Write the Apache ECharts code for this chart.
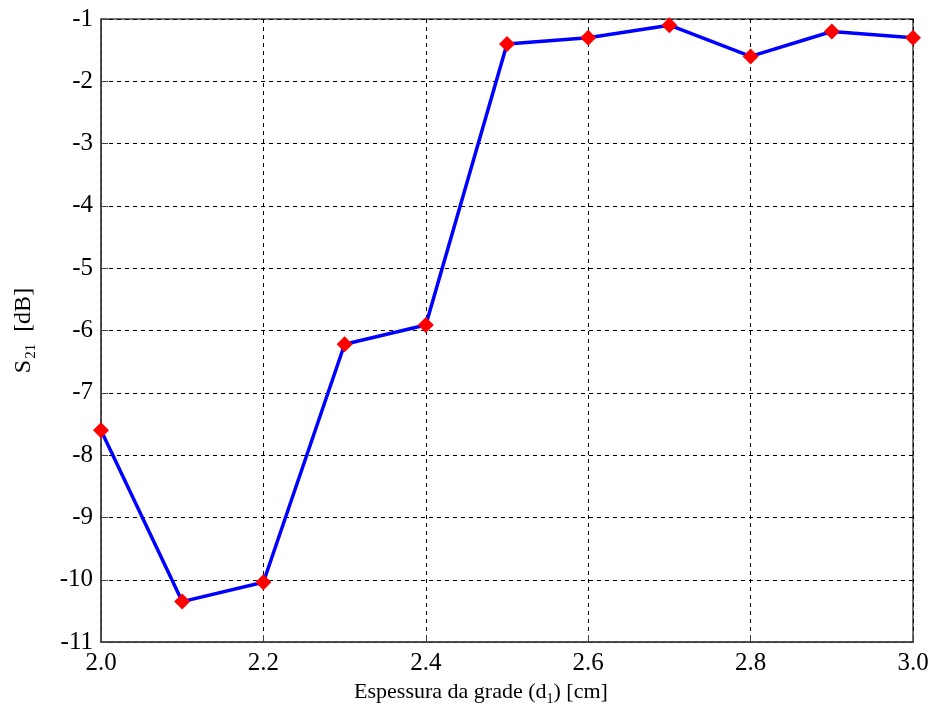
<!DOCTYPE html>
<html>
<head>
<meta charset="utf-8">
<script src="https://cdn.jsdelivr.net/npm/echarts@6/dist/echarts.min.js"></script>
<style>
  html, body { margin: 0; padding: 0; background: #fff; }
  #chart { width: 933px; height: 711px; }
</style>
</head>
<body>
<div id="chart"></div>
<script>
// espessura da grade (cm) vs S21 (dB)
var thickness = [2.0, 2.1, 2.2, 2.3, 2.4, 2.5, 2.6, 2.7, 2.8, 2.9, 3.0];
var s21 = [-7.6, -10.35, -10.04, -6.22, -5.91, -1.4, -1.3, -1.1, -1.6, -1.2, -1.3];

var points = [];
for (let i = 0; i < thickness.length; i++) {
  points.push([thickness[i], s21[i]]);
}

var FONT = "Liberation Serif";

var dom = document.getElementById("chart");
var myChart = echarts.init(dom, null, { renderer: "canvas" });

var gridLine = {
  show: true,
  lineStyle: { color: "#000", width: 1, type: [4, 4] },
};

var option = {
  animation: false,
  backgroundColor: "#fff",
  textStyle: { fontFamily: FONT },
  grid: {
    left: 101,
    right: 20,
    top: 19,
    bottom: 68,
    show: true,
    borderColor: "#444",
    borderWidth: 1.5,
  },
  xAxis: {
    type: "value",
    min: 2.0,
    max: 3.0,
    interval: 0.2,
    name: "{a|Espessura da grade (d}{sub|1}{a|) [cm]}",
    nameLocation: "middle",
    nameGap: 33,
    nameTextStyle: {
      padding: [0, 52, 0, 0],
      rich: {
        a: { fontFamily: FONT, fontSize: 22, color: "#000" },
        sub: { fontFamily: FONT, fontSize: 14, color: "#000", padding: [14, 0, 0, 0] },
      },
    },
    axisLine: { lineStyle: { color: "#444", width: 1.5 } },
    axisTick: { inside: true, length: 7, lineStyle: { color: "#444" } },
    axisLabel: {
      fontFamily: FONT,
      fontSize: 25,
      color: "#000",
      margin: 9,
      formatter: function (v) { return v.toFixed(1); },
    },
    splitLine: gridLine,
  },
  yAxis: {
    type: "value",
    min: -11,
    max: -1,
    interval: 1,
    name: "{a|S}{sub|21}{a|  [dB]}",
    nameLocation: "middle",
    nameGap: 62,
    nameTextStyle: {
      rich: {
        a: { fontFamily: FONT, fontSize: 24, color: "#000" },
        sub: { fontFamily: FONT, fontSize: 15, color: "#000", padding: [16, 0, 0, 1] },
      },
    },
    axisLine: { show: true, lineStyle: { color: "#444", width: 1.5 } },
    axisTick: { show: true, inside: true, length: 7, lineStyle: { color: "#444" } },
    axisLabel: {
      fontFamily: FONT,
      fontSize: 25,
      color: "#000",
      margin: 8,
    },
    splitLine: gridLine,
  },
  series: [
    {
      name: "S21",
      type: "line",
      data: points,
      symbol: "diamond",
      symbolSize: 16,
      itemStyle: { color: "#ff0000" },
      lineStyle: { color: "#0000ff", width: 3.5 },
      z: 5,
    },
  ],
};

if (option && typeof option === "object") {
  myChart.setOption(option);
}

window.addEventListener("resize", myChart.resize);
</script>
</body>
</html>
